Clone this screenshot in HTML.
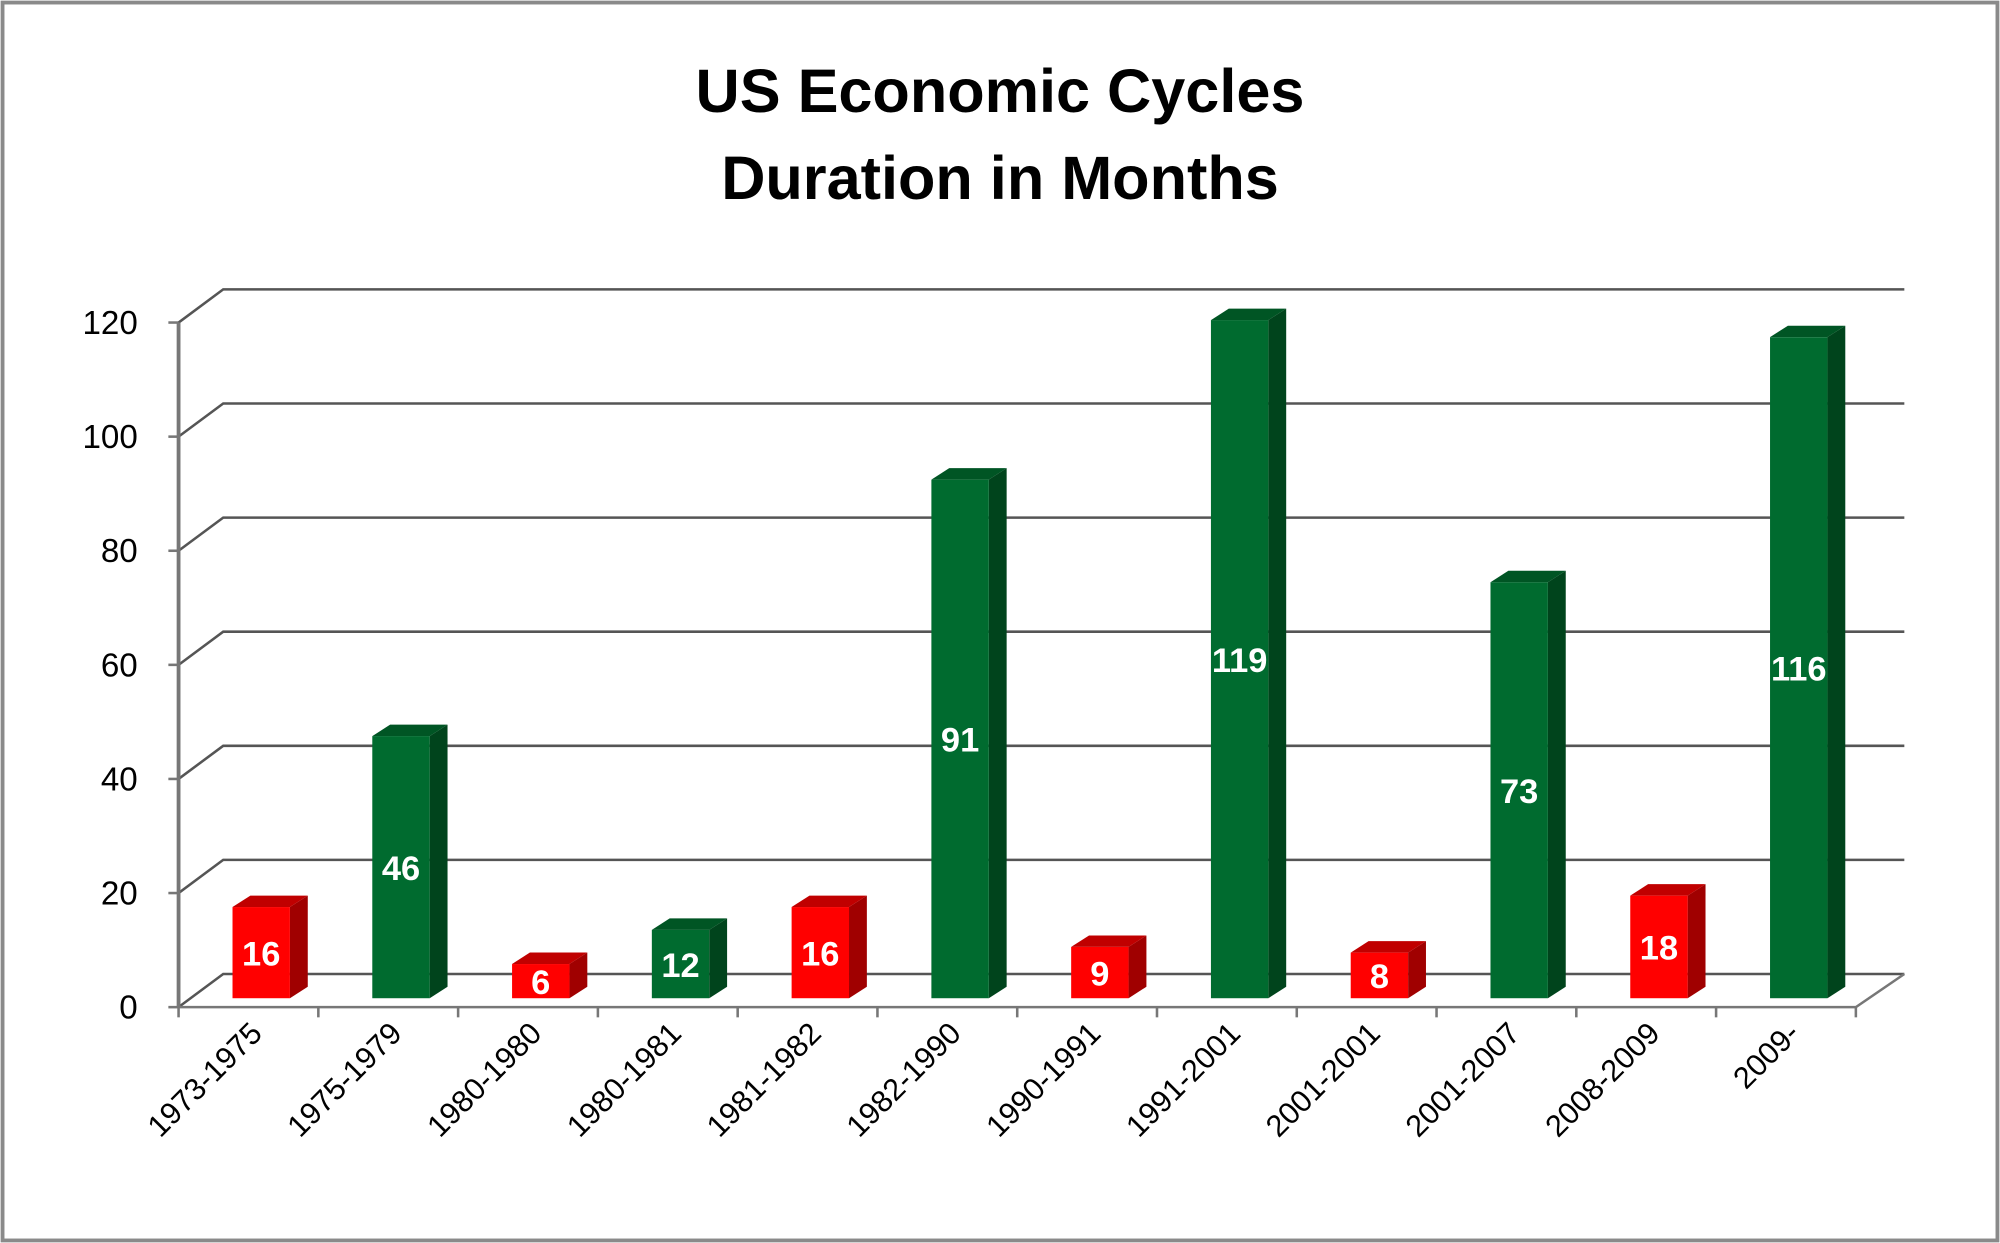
<!DOCTYPE html>
<html><head><meta charset="utf-8"><style>
html,body{margin:0;padding:0;background:#fff;}
svg{display:block;}
</style></head><body>
<svg id="chart" width="2000" height="1243" viewBox="0 0 1568 975" preserveAspectRatio="none" xmlns="http://www.w3.org/2000/svg" font-family="'Liberation Sans', sans-serif">
<rect x="2" y="2" width="1564" height="971" fill="#fff" stroke="#8a8a8a" stroke-width="3"/>
<text x="784" y="88" text-anchor="middle" font-size="48" font-weight="bold" fill="#000">US Economic Cycles</text>
<text x="784" y="156" text-anchor="middle" font-size="48" font-weight="bold" fill="#000">Duration in Months</text>
<g id="grid"></g>
<g id="bars"></g>
<g id="xlabels"></g>
</svg>
<script>
const categories = ["1973-1975","1975-1979","1980-1980","1980-1981","1981-1982","1982-1990","1990-1991","1991-2001","2001-2001","2001-2007","2008-2009","2009-"];
const values = [16,46,6,12,16,91,9,119,8,73,18,116];
const phases = ["r","e","r","e","r","e","r","e","r","e","r","e"];
const yTicks = [0,20,40,60,80,100,120];

const NS = "http://www.w3.org/2000/svg";
const frontX0 = 140, frontX1 = 1455, frontY0 = 790, frontY120 = 253;
const depthX = 35, depthY = -26;
const yMax = 120;
function yFront(v){ return frontY0 - (frontY0 - frontY120) * v / yMax; }
const catW = (frontX1 - frontX0) / categories.length;
function xCat(i){ return frontX0 + catW * (i + 0.5); }
const barBase = 783, barScale = 4.47;
function barTop(v){ return barBase - v * barScale; }

function mk(tag, attrs, parent){
  const el = document.createElementNS(NS, tag);
  for (const k in attrs) el.setAttribute(k, attrs[k]);
  parent.appendChild(el);
  return el;
}
const grid = document.getElementById('grid');
yTicks.forEach(t => {
  const y = yFront(t);
  const p = mk('polyline', {points:`${frontX0},${y} ${frontX0+depthX},${y+depthY} 1493,${y+depthY}`, fill:'none', stroke:'#555', 'stroke-width':2}, grid);
  
  
  const tk = mk('line', {x1:frontX0-8, y1:y, x2:frontX0, y2:y, stroke:'#777', 'stroke-width':2}, grid);
  
  
  const lb = mk('text', {x:108, y:y+9, 'text-anchor':'end', 'font-size':26, fill:'#000'}, grid);
  lb.textContent = t;
  
  
});
const ax = mk('line', {x1:frontX0, y1:frontY0, x2:frontX0, y2:frontY120, stroke:'#777', 'stroke-width':3}, grid);


const floor = mk('polyline', {points:`${frontX0},${frontY0} ${frontX1},${frontY0} 1493,${frontY0+depthY}`, fill:'none', stroke:'#777', 'stroke-width':2}, grid);


for (let i = 0; i <= categories.length; i++) {
  const x = frontX0 + catW * i;
  const t = mk('line', {x1:x, y1:frontY0, x2:x, y2:frontY0+8, stroke:'#777', 'stroke-width':2}, grid);
  
  
}

const bars = document.getElementById('bars');
const colors = {r:{f:'#ff0000', s:'#a00000', t:'#c00000'}, e:{f:'#006b2f', s:'#00441c', t:'#005524'}};
const bw = 45, dx = 14, dy = -9;
values.forEach((v, i) => {
  const c = colors[phases[i]];
  const x0 = xCat(i) + 10 - bw/2, yt = barTop(v);
  const g = mk('g', {}, bars);
  
  
  mk('polygon', {points:`${x0+bw},${barBase} ${x0+bw+dx},${barBase+dy} ${x0+bw+dx},${yt+dy} ${x0+bw},${yt}`, fill:c.s}, g);
  mk('polygon', {points:`${x0},${yt} ${x0+dx},${yt+dy} ${x0+bw+dx},${yt+dy} ${x0+bw},${yt}`, fill:c.t}, g);
  mk('rect', {x:x0, y:yt, width:bw, height:barBase-yt, fill:c.f}, g);
  const lb = mk('text', {x:x0+bw/2, y:(yt+barBase)/2+10, 'text-anchor':'middle', 'font-size':27, 'font-weight':'bold', fill:'#fff'}, g);
  lb.textContent = v;
  
  
});

const xl = document.getElementById('xlabels');
categories.forEach((c, i) => {
  const x = xCat(i) + 12, y = 812;
  const t = mk('text', {x:x, y:y, 'text-anchor':'end', 'font-size':24, fill:'#000', transform:`rotate(-45 ${x} ${y})`}, xl);
  t.textContent = c;
  
  
});
</script>
</body></html>
